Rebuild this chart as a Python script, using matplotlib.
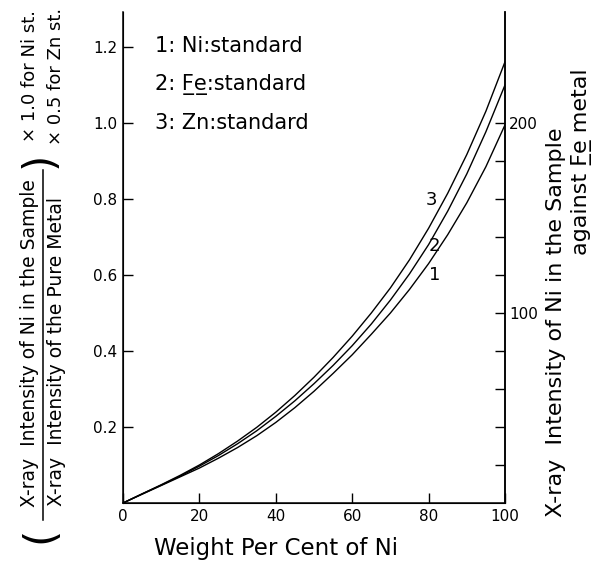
import matplotlib.pyplot as plt
from matplotlib.lines import Line2D

# weight per cent of Ni
WT = [0, 5, 10, 15, 20, 25, 30, 35, 40, 45, 50,
      55, 60, 65, 70, 75, 80, 85, 90, 95, 100]
# relative intensity I/I_pure for each standard
NI_STD = [0, 0.023, 0.046, 0.069, 0.092, 0.118, 0.146, 0.177, 0.212, 0.251, 0.294,
          0.341, 0.390, 0.444, 0.500, 0.562, 0.630, 0.706, 0.790, 0.885, 0.995]
FE_STD = [0, 0.024, 0.047, 0.071, 0.097, 0.125, 0.156, 0.190, 0.228, 0.269, 0.314,
          0.362, 0.414, 0.471, 0.534, 0.603, 0.680, 0.768, 0.866, 0.977, 1.100]
ZN_STD = [0, 0.024, 0.048, 0.073, 0.100, 0.130, 0.163, 0.199, 0.239, 0.283, 0.331,
          0.383, 0.439, 0.500, 0.566, 0.640, 0.723, 0.815, 0.917, 1.031, 1.161]

CURVES = [("1", NI_STD, 81.6, 0.60), ("2", FE_STD, 81.6, 0.675), ("3", ZN_STD, 80.8, 0.797)]
FE_U = "F\u0332e\u0332"  # underlined element symbol
LEGEND = ["1: Ni:standard", f"2: {FE_U}:standard", "3: Zn:standard"]

X_TICKS = [0, 20, 40, 60, 80, 100]
Y_TICKS = [0.2, 0.4, 0.6, 0.8, 1.0, 1.2]
R_TICKS = [20, 40, 60, 80, 100, 120, 140, 160, 180, 200]
R_LABELS = ["", "", "", "", "100", "", "", "", "", "200"]
R_SCALE = 200  # right scale: counts per unit of relative intensity

W, H = 593, 568
fig = plt.figure(figsize=(W / 100, H / 100), dpi=100)
ax = fig.add_axes([123 / W, 1 - 503 / H, 382 / W, 491 / H])

for name, ys, lx, ly in CURVES:
    ax.plot(WT, ys, color="black", lw=1.0)
    ax.text(lx, ly, name, fontsize=13, ha="center", va="center")

ax.set_xlim(0, 100)
ax.set_ylim(0, 491 / 380)
ax.set_xticks(X_TICKS)
ax.set_xticklabels([str(v) for v in X_TICKS], fontsize=11)
ax.set_yticks(Y_TICKS)
ax.set_yticklabels([f"{v:.1f}" for v in Y_TICKS], fontsize=11)
ax.tick_params(direction="in", length=7, width=1, pad=4)
ax.spines["top"].set_visible(False)
for s in ax.spines.values():
    s.set_linewidth(1.1)

ax2 = ax.twinx()
ax2.set_ylim(0, 491 / 380 * R_SCALE)
ax2.set_yticks(R_TICKS)
ax2.set_yticklabels(R_LABELS, fontsize=11)
ax2.tick_params(direction="in", length=7, width=1, pad=3)
ax2.spines["top"].set_visible(False)
ax2.spines["right"].set_linewidth(1.1)

for i, t in enumerate(LEGEND):
    fig.text(155 / W, 1 - (46 + 38.5 * i) / H, t, fontsize=15, va="center")

fig.text(276 / W, 1 - 548 / H, "Weight Per Cent of Ni", fontsize=16.5,
         ha="center", va="center")

# left label: fraction in brackets with the scale factors
fig.text(30 / W, 1 - 343 / H, "X-ray  Intensity of Ni in the Sample", fontsize=13.5,
         rotation=90, ha="center", va="center")
fig.text(56 / W, 1 - 352 / H, "X-ray  Intensity of the Pure Metal", fontsize=13.5,
         rotation=90, ha="center", va="center")
fig.add_artist(Line2D([43 / W, 43 / W], [1 - 520 / H, 1 - 170 / H],
                      transform=fig.transFigure, color="black", lw=1.1))
fig.text(40 / W, 1 - 535 / H, "(", fontsize=30, rotation=90, ha="center", va="center")
fig.text(40 / W, 1 - 160 / H, ")", fontsize=30, rotation=90, ha="center", va="center")
fig.text(30 / W, 1 - 76 / H, "× 1.0 for Ni st.", fontsize=13,
         rotation=90, ha="center", va="center")
fig.text(56 / W, 1 - 76 / H, "× 0.5 for Zn st.", fontsize=13,
         rotation=90, ha="center", va="center")

# right label
fig.text(556 / W, 1 - 322 / H, "X-ray  Intensity of Ni in the Sample", fontsize=16,
         rotation=90, ha="center", va="center")
fig.text(581 / W, 1 - 162 / H, f"against {FE_U} metal", fontsize=16,
         rotation=90, ha="center", va="center")

fig.savefig("out.png", dpi=100)
